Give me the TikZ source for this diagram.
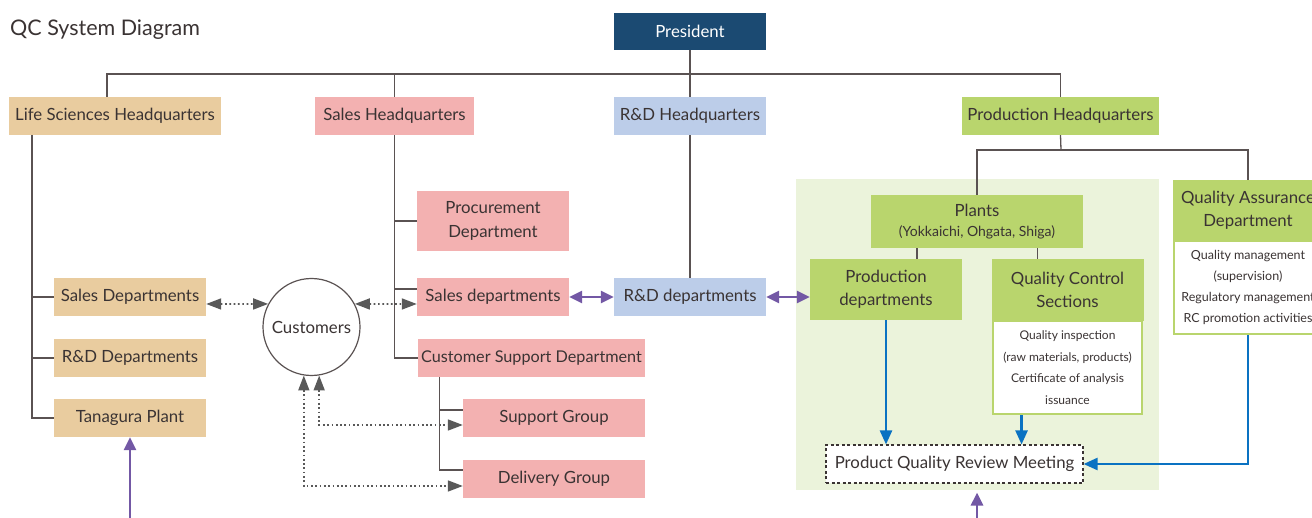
\documentclass[tikz,border=0pt]{standalone}
\usepackage{fontspec}
\setmainfont{Lato}
\usetikzlibrary{arrows.meta,calc}
\definecolor{txt}{HTML}{3A3333}
\definecolor{presc}{HTML}{1B4A72}
\definecolor{tanc}{HTML}{E9CC9F}
\definecolor{pinkc}{HTML}{F3B1B1}
\definecolor{bluec}{HTML}{BCCDE9}
\definecolor{greenc}{HTML}{B9D56D}
\definecolor{bgc}{HTML}{EBF3DB}
\definecolor{purc}{HTML}{7358A5}
\definecolor{barc}{HTML}{0A72C2}
\definecolor{grayc}{HTML}{595959}
\definecolor{treec}{HTML}{5A5252}
\begin{document}
\begin{tikzpicture}[x=1pt,y=-1pt,
  box/.style={rectangle, inner sep=0pt, text=txt, align=center,
    font=\fontsize{16.8}{23.5}\selectfont},
  tree/.style={draw=treec, line width=1.3pt},
  dotarr/.style={draw=grayc, line width=1.7pt, dash pattern=on 1.7pt off 2.6pt,
    {Triangle[length=15pt,width=11pt]}-{Triangle[length=15pt,width=11pt]}},
  parr/.style={draw=purc, line width=2.8pt, -{Triangle[length=13pt,width=12pt]}},
  pdarr/.style={draw=purc, line width=2.8pt, {Triangle[length=13pt,width=12pt]}-{Triangle[length=13pt,width=12pt]}},
  barr/.style={draw=barc, line width=2.4pt, -{Triangle[length=14pt,width=12pt]}},
  smalltxt/.style={font=\fontsize{12}{21.5}\selectfont},
  midtxt/.style={font=\fontsize{12.5}{21}\selectfont}
]
\clip (0,0) rectangle (1312,518);
% background panel
\fill[bgc] (796,179) rectangle (1159,490);

\node[anchor=base west, inner sep=0pt, text=txt, font=\fontsize{21.5}{24}\selectfont] (title) at (10,36) {QC System Diagram};

% top level
\node[box, fill=presc, text=white, minimum width=152, minimum height=37] (pres) at (690,31.5) {President};
\node[box, fill=tanc, minimum width=212, minimum height=38] (lshq) at (115,116) {Life Sciences Headquarters};
\node[box, fill=pinkc, minimum width=159, minimum height=38] (shq) at (394.5,116) {Sales Headquarters};
\node[box, fill=bluec, minimum width=152, minimum height=38] (rdhq) at (690,116) {R\&D Headquarters};
\node[box, fill=greenc, minimum width=197, minimum height=38] (phq) at (1060.5,116) {Production Headquarters};

% life sciences branch
\node[box, fill=tanc, minimum width=152, minimum height=38] (lssales) at (130,297) {Sales Departments};
\node[box, fill=tanc, minimum width=152, minimum height=38] (lsrd) at (130,358) {R\&D Departments};
\node[box, fill=tanc, minimum width=152, minimum height=38] (tan) at (130,418) {Tanagura Plant};

% customers
\node[circle, draw=treec, line width=1.2pt, fill=white, minimum size=97, inner sep=0pt, text=txt,
  font=\fontsize{16.8}{19}\selectfont] (cust) at (311.5,327) {Customers};

% sales branch
\node[box, fill=pinkc, minimum width=152, minimum height=60] (proc) at (493,221) {Procurement\\Department};
\node[box, fill=pinkc, minimum width=152, minimum height=38] (sdeps) at (493,297) {Sales departments};
\node[box, fill=pinkc, minimum width=227, minimum height=38, font=\fontsize{16.2}{20}\selectfont] (csd) at (531.5,358) {Customer Support Department};
\node[box, fill=pinkc, minimum width=182, minimum height=38] (supg) at (554,418) {Support Group};
\node[box, fill=pinkc, minimum width=182, minimum height=38] (delg) at (554,479) {Delivery Group};

% R&D
\node[box, fill=bluec, minimum width=152, minimum height=38] (rddeps) at (690,297) {R\&D departments};

% production
\node[box, fill=greenc, minimum width=212, minimum height=53] (plants) at (977,221.5)
  {Plants\\[-3pt]{\fontsize{14}{16}\selectfont (Yokkaichi, Ohgata, Shiga)}};
\node[box, fill=greenc, minimum width=152, minimum height=61] (pdeps) at (886,289.5) {Production\\departments};
\node[box, fill=white, draw=greenc, line width=2.4pt, minimum width=149.5, minimum height=93, smalltxt] (qcsb) at (1067.5,367.5)
  {Quality inspection\\(raw materials, products)\\Certificate of analysis\\issuance};
\node[box, fill=greenc, minimum width=152, minimum height=62] (qcs) at (1067.5,290) {Quality Control\\Sections};
\node[box, fill=white, draw=greenc, line width=2.4pt, minimum width=148.5, minimum height=93, midtxt] (qab) at (1248,287.5)
  {Quality management\\(supervision)\\Regulatory management\\RC promotion activities};
\node[box, fill=greenc, minimum width=150, minimum height=61] (qa) at (1248,210.5) {Quality Assurance\\Department};
\node[box, fill=white, draw=txt, line width=1.1pt, dash pattern=on 3pt off 2.5pt, minimum width=257, minimum height=38] (pqrm) at (954.5,464)
  {Product Quality Review Meeting};

% coordinates
\coordinate (bus) at (690,74);
\coordinate (pbus) at (1061,150);
\coordinate (lsv) at (32,135);
\coordinate (bot1) at (130,518);
\coordinate (bot2) at (977,518);
\coordinate (csv) at ([xshift=22pt]csd.south west);

% org tree lines
\draw[tree] (pres.south) -- (rdhq.north);
\draw[tree] ([xshift=-8pt]lshq.north) |- (bus) -| (phq.north);
\draw[tree] (shq.north) -- (shq.north |- bus);
\draw[tree] (lsv) |- (tan.west);
\draw[tree] (lssales.west) -- (lssales.west -| lsv);
\draw[tree] (lsrd.west) -- (lsrd.west -| lsv);
\draw[tree] (shq.south) |- (csd.west);
\draw[tree] (proc.west) -- (proc.west -| shq.south);
\draw[tree] ([yshift=8pt]sdeps.west) -- ([yshift=8pt]sdeps.west -| shq.south);
\draw[tree] (csv) |- ([yshift=9pt]delg.west);
\draw[tree] ([yshift=8pt]supg.west) -- ([yshift=8pt]supg.west -| csv);
\draw[tree] (rdhq.south) -- (rddeps.north);
\draw[tree] (phq.south) -- (pbus);
\draw[tree] (plants.north) |- (pbus) -| (qa.north);
\draw[tree] ([xshift=31pt]pdeps.north) -- ([xshift=31pt]pdeps.north |- plants.south);
\draw[tree] ([xshift=-30pt]qcs.north) -- ([xshift=-30pt]qcs.north |- plants.south);

% dotted customer arrows
\draw[dotarr] ([yshift=-7pt]lssales.east) -- (cust.152);
\draw[dotarr] (cust.28) -- ([yshift=-7pt]sdeps.west);
\draw[dotarr] (cust.279) |- ([yshift=-7pt]supg.west);
\draw[dotarr] (cust.261) |- ([yshift=-7pt]delg.west);

% purple arrows
\draw[pdarr] (sdeps.east) -- (rddeps.west);
\draw[pdarr] (rddeps.east) -- (rddeps.east -| pdeps.west);
\draw[parr] (bot1) -- (tan.south);
\draw[parr] (bot2) -- ([yshift=-9pt]pqrm.south -| bot2);

% blue arrows
\draw[barr] (pdeps.south) -- (pdeps.south |- pqrm.north);
\draw[barr] ([xshift=30pt]qcsb.south west) -- ([xshift=30pt]qcsb.south west |- pqrm.north);
\draw[barr] (qab.south) |- (pqrm.east);
\end{tikzpicture}
\end{document}
